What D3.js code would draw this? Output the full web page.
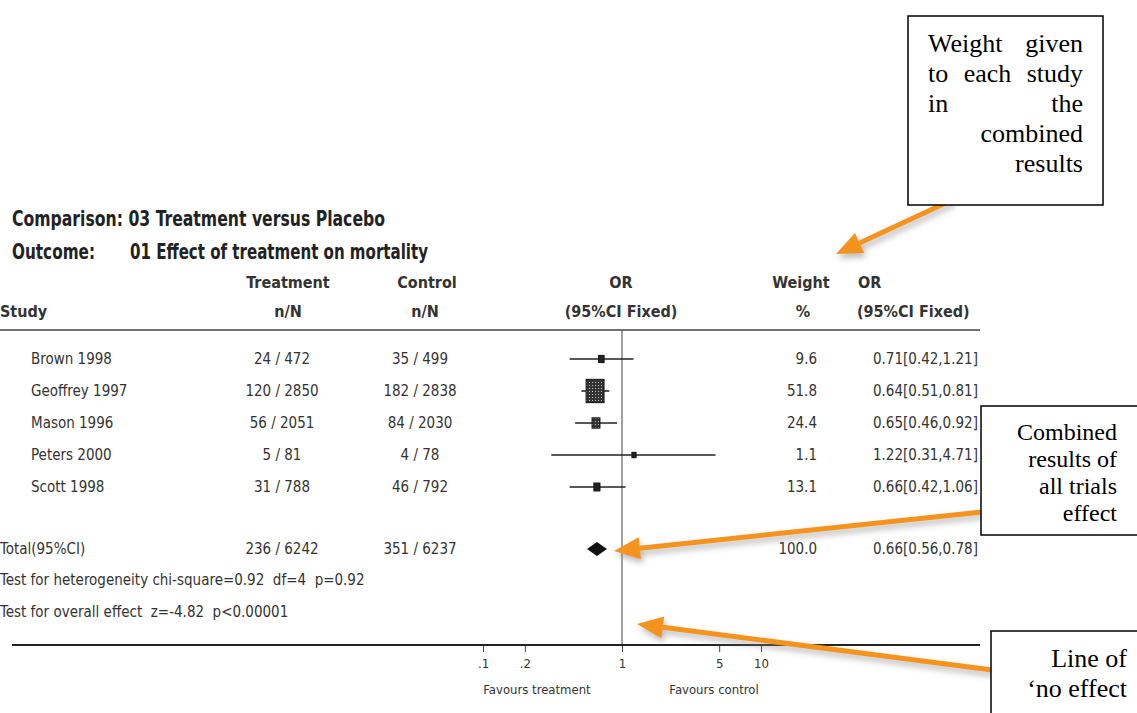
<!DOCTYPE html>
<html>
<head>
<meta charset="utf-8">
<script src="https://cdn.jsdelivr.net/npm/d3@7"></script>
<style>
  body { margin: 0; background: #fff; }
  svg { display: block; }
</style>
</head>
<body>
<div id="chart-area"></div>
<script>
// study data
var studies = ["Brown 1998", "Geoffrey 1997", "Mason 1996", "Peters 2000", "Scott 1998"];
var treatEvents = [24, 120, 56, 5, 31];
var treatTotal = [472, 2850, 2051, 81, 788];
var ctrlEvents = [35, 182, 84, 4, 46];
var ctrlTotal = [499, 2838, 2030, 78, 792];
var oddsRatio = [0.71, 0.64, 0.65, 1.22, 0.66];
var ciLow = [0.42, 0.51, 0.46, 0.31, 0.42];
var ciHigh = [1.21, 0.81, 0.92, 4.71, 1.06];
var weights = [9.6, 51.8, 24.4, 1.1, 13.1];

// pooled result
var totalLabel = "Total(95%CI)";
var totalTreat = [236, 6242];
var totalCtrl = [351, 6237];
var totalWeight = 100.0;
var totalOR = [0.66, 0.56, 0.78];
var heteroText = "Test for heterogeneity chi-square=0.92  df=4  p=0.92";
var overallText = "Test for overall effect  z=-4.82  p<0.00001";

var axisTicks = [0.1, 0.2, 1, 5, 10];
var axisTickLabels = [".1", ".2", "1", "5", "10"];

var SANS = "'Liberation Sans Narrow', 'DejaVu Sans Condensed', 'Arial Narrow', sans-serif";
var SERIF = "'Liberation Serif', 'Times New Roman', serif";
var ORANGE = "#f5941f";

var svg = d3.select("#chart-area").append("svg")
    .attr("width", 1137)
    .attr("height", 713);

var defs = svg.append("defs");
var pat = defs.append("pattern")
    .attr("id", "dots")
    .attr("width", 3).attr("height", 3)
    .attr("patternUnits", "userSpaceOnUse");
pat.append("rect").attr("width", 3).attr("height", 3).attr("fill", "#333");
pat.append("rect").attr("x", 1).attr("y", 1).attr("width", 1).attr("height", 1).attr("fill", "#bbb");

var shadow = defs.append("filter").attr("id", "shadow")
    .attr("x", "-20%").attr("y", "-50%").attr("width", "140%").attr("height", "200%");
shadow.append("feDropShadow")
    .attr("dx", 2).attr("dy", 4).attr("stdDeviation", 3)
    .attr("flood-color", "#888").attr("flood-opacity", 0.6);

// scales
var x = d3.scaleLog()
    .domain([0.01, 100])
    .range([344, 900]);

var y = d3.scalePoint()
    .domain(studies)
    .range([359, 487]);

var boxSize = d3.scaleLinear()
    .domain([0, 25, 52])
    .range([4, 8, 18]);

var f2 = d3.format(".2f");
var f1 = d3.format(".1f");

// keep the double spaces of the original statistics lines
function keepSpaces(s) { return s.replace(/  /g, " \u00a0"); }

// titles
svg.append("text")
    .attr("x", 12).attr("y", 226)
    .attr("font-family", SANS).attr("font-size", 21)
    .attr("fill", "#222").attr("font-weight", "bold")
    .attr("textLength", 373).attr("lengthAdjust", "spacingAndGlyphs")
    .text("Comparison: 03 Treatment versus Placebo");
svg.append("text")
    .attr("x", 12).attr("y", 259)
    .attr("font-family", SANS).attr("font-size", 21)
    .attr("fill", "#222").attr("font-weight", "bold")
    .attr("textLength", 83).attr("lengthAdjust", "spacingAndGlyphs")
    .text("Outcome:");
svg.append("text")
    .attr("x", 130).attr("y", 259)
    .attr("font-family", SANS).attr("font-size", 21)
    .attr("fill", "#222").attr("font-weight", "bold")
    .attr("textLength", 298).attr("lengthAdjust", "spacingAndGlyphs")
    .text("01 Effect of treatment on mortality");

// column headers
var headers = [
    {t: "Treatment", x: 288, y: 288, a: "middle"},
    {t: "Control", x: 427, y: 288, a: "middle"},
    {t: "OR", x: 621, y: 288, a: "middle"},
    {t: "Weight", x: 801, y: 288, a: "middle"},
    {t: "OR", x: 858, y: 288, a: "start"},
    {t: "Study", x: 0, y: 317, a: "start"},
    {t: "n/N", x: 288, y: 317, a: "middle"},
    {t: "n/N", x: 425, y: 317, a: "middle"},
    {t: "(95%CI Fixed)", x: 621, y: 317, a: "middle"},
    {t: "%", x: 803, y: 317, a: "middle"},
    {t: "(95%CI Fixed)", x: 857, y: 317, a: "start"}
];
svg.selectAll("text.hdr")
    .data(headers)
    .enter()
    .append("text")
    .attr("class", "hdr")
    .attr("x", d => d.x).attr("y", d => d.y)
    .attr("text-anchor", d => d.a)
    .attr("font-family", SANS).attr("font-size", 16)
    .attr("font-weight", "bold").attr("fill", "#333")
    .text(d => d.t);

svg.append("line")
    .attr("x1", 0).attr("x2", 980)
    .attr("y1", 330).attr("y2", 330)
    .attr("stroke", "#444").attr("stroke-width", 1.5);

// line of no effect
svg.append("line")
    .attr("x1", x(1)).attr("x2", x(1))
    .attr("y1", 330).attr("y2", 645)
    .attr("stroke", "#444").attr("stroke-width", 1);

// table text
var rows = studies.map((s, i) => ({
    name: s,
    t: treatEvents[i] + " / " + treatTotal[i],
    c: ctrlEvents[i] + " / " + ctrlTotal[i],
    or: oddsRatio[i], lo: ciLow[i], hi: ciHigh[i], w: weights[i]
}));

var rowG = svg.selectAll("g.row")
    .data(rows)
    .enter()
    .append("g")
    .attr("class", "row")
    .attr("font-family", SANS).attr("font-size", 15)
    .attr("fill", "#333");

rowG.append("text").attr("x", 31).attr("y", d => y(d.name) + 5).text(d => d.name);
rowG.append("text").attr("x", 282).attr("y", d => y(d.name) + 5).attr("text-anchor", "middle").text(d => d.t);
rowG.append("text").attr("x", 420).attr("y", d => y(d.name) + 5).attr("text-anchor", "middle").text(d => d.c);
rowG.append("text").attr("x", 817).attr("y", d => y(d.name) + 5).attr("text-anchor", "end").text(d => f1(d.w));
rowG.append("text").attr("x", 873).attr("y", d => y(d.name) + 5)
    .text(d => f2(d.or) + "[" + f2(d.lo) + "," + f2(d.hi) + "]");

// CI lines and weighted boxes (slightly taller than wide, as in the source)
rowG.append("line")
    .attr("x1", d => x(d.lo)).attr("x2", d => x(d.hi))
    .attr("y1", d => y(d.name)).attr("y2", d => y(d.name))
    .attr("stroke", "#222").attr("stroke-width", 1.5);
rowG.append("rect")
    .attr("x", d => x(d.or) - boxSize(d.w) / 2)
    .attr("y", d => y(d.name) - boxSize(d.w) * 0.65)
    .attr("width", d => boxSize(d.w))
    .attr("height", d => boxSize(d.w) * 1.3)
    .attr("fill", d => d.w > 20 ? "url(#dots)" : "#222")
    .attr("stroke", "#111").attr("stroke-width", 1);

// total row
var yTotal = 549;
var tg = svg.append("g").attr("font-family", SANS).attr("font-size", 15).attr("fill", "#333");
tg.append("text").attr("x", 0).attr("y", yTotal + 5).text(totalLabel);
tg.append("text").attr("x", 282).attr("y", yTotal + 5).attr("text-anchor", "middle").text(totalTreat[0] + " / " + totalTreat[1]);
tg.append("text").attr("x", 420).attr("y", yTotal + 5).attr("text-anchor", "middle").text(totalCtrl[0] + " / " + totalCtrl[1]);
tg.append("text").attr("x", 817).attr("y", yTotal + 5).attr("text-anchor", "end").text(f1(totalWeight));
tg.append("text").attr("x", 873).attr("y", yTotal + 5)
    .text(f2(totalOR[0]) + "[" + f2(totalOR[1]) + "," + f2(totalOR[2]) + "]");
tg.append("text").attr("x", 0).attr("y", 585).text(keepSpaces(heteroText));
tg.append("text").attr("x", 0).attr("y", 617).text(keepSpaces(overallText));

svg.append("path")
    .attr("d", "M" + x(totalOR[1]) + "," + yTotal +
        "L" + x(totalOR[0]) + "," + (yTotal - 7) +
        "L" + x(totalOR[2]) + "," + yTotal +
        "L" + x(totalOR[0]) + "," + (yTotal + 7) + "Z")
    .attr("fill", "#111");

// bottom axis
svg.append("line")
    .attr("x1", 12).attr("x2", 980)
    .attr("y1", 645).attr("y2", 645)
    .attr("stroke", "#222").attr("stroke-width", 2);

var xAxis = d3.axisBottom(x)
    .tickValues(axisTicks)
    .tickFormat((d, i) => axisTickLabels[i])
    .tickSize(6)
    .tickPadding(7);

var ax = svg.append("g")
    .attr("transform", "translate(0,646)")
    .call(xAxis);
ax.select(".domain").remove();
ax.selectAll("line").attr("stroke", "#444");
ax.selectAll("text")
    .attr("font-family", SANS).attr("font-size", 13).attr("fill", "#333");

svg.append("text")
    .attr("x", 537).attr("y", 694).attr("text-anchor", "middle")
    .attr("font-family", SANS).attr("font-size", 13).attr("fill", "#333")
    .text("Favours treatment");
svg.append("text")
    .attr("x", 714).attr("y", 694).attr("text-anchor", "middle")
    .attr("font-family", SANS).attr("font-size", 13).attr("fill", "#333")
    .text("Favours control");

// annotation arrows
function arrow(x0, y0, x1, y1) {
    var dx = x1 - x0, dy = y1 - y0;
    var len = Math.sqrt(dx * dx + dy * dy);
    var ux = dx / len, uy = dy / len;
    var hl = 26, hw = 11;
    var bx = x1 - ux * hl, by = y1 - uy * hl;
    var g = svg.append("g").attr("filter", "url(#shadow)");
    g.append("line")
        .attr("x1", x0).attr("y1", y0).attr("x2", bx).attr("y2", by)
        .attr("stroke", ORANGE).attr("stroke-width", 5);
    g.append("path")
        .attr("d", "M" + x1 + "," + y1 +
            "L" + (bx - uy * hw) + "," + (by + ux * hw) +
            "L" + (bx + uy * hw) + "," + (by - ux * hw) + "Z")
        .attr("fill", ORANGE);
}
arrow(952, 200, 836, 254);
arrow(982, 512, 614, 551);
arrow(992, 670, 637, 624);

// annotation boxes
function noteBox(bx, by, bw, bh, lines, right, top, lineH, size) {
    svg.append("rect")
        .attr("x", bx).attr("y", by).attr("width", bw).attr("height", bh)
        .attr("fill", "#fff").attr("stroke", "#000").attr("stroke-width", 1.5);
    lines.forEach((ln, i) => {
        var yy = top + i * lineH;
        var g = svg.append("g").attr("font-family", SERIF).attr("font-size", size).attr("fill", "#000");
        if (ln.align === "justify" && ln.words.length > 1) {
            var texts = ln.words.map(w => g.append("text").attr("y", yy).text(w));
            var widths = texts.map(t => t.node().getComputedTextLength());
            var gap = (right - ln.left - d3.sum(widths)) / (ln.words.length - 1);
            var cx = ln.left;
            texts.forEach((t, j) => { t.attr("x", cx); cx += widths[j] + gap; });
        } else {
            g.append("text").attr("x", right).attr("y", yy).attr("text-anchor", "end")
                .text(ln.words.join(" "));
        }
    });
}

noteBox(908, 16, 195, 189, [
    {words: ["Weight", "given"], align: "justify", left: 928},
    {words: ["to", "each", "study"], align: "justify", left: 928},
    {words: ["in", "the"], align: "justify", left: 928},
    {words: ["combined"], align: "right"},
    {words: ["results"], align: "right"}
], 1083, 52, 30, 26);

noteBox(981, 406, 170, 129, [
    {words: ["Combined"], align: "right"},
    {words: ["results", "of"], align: "right"},
    {words: ["all", "trials"], align: "right"},
    {words: ["effect"], align: "right"}
], 1117, 440, 27, 24);

noteBox(991, 631, 160, 100, [
    {words: ["Line", "of"], align: "right"},
    {words: ["\u2018no", "effect"], align: "right"}
], 1127, 667, 30, 26);
</script>
</body>
</html>
